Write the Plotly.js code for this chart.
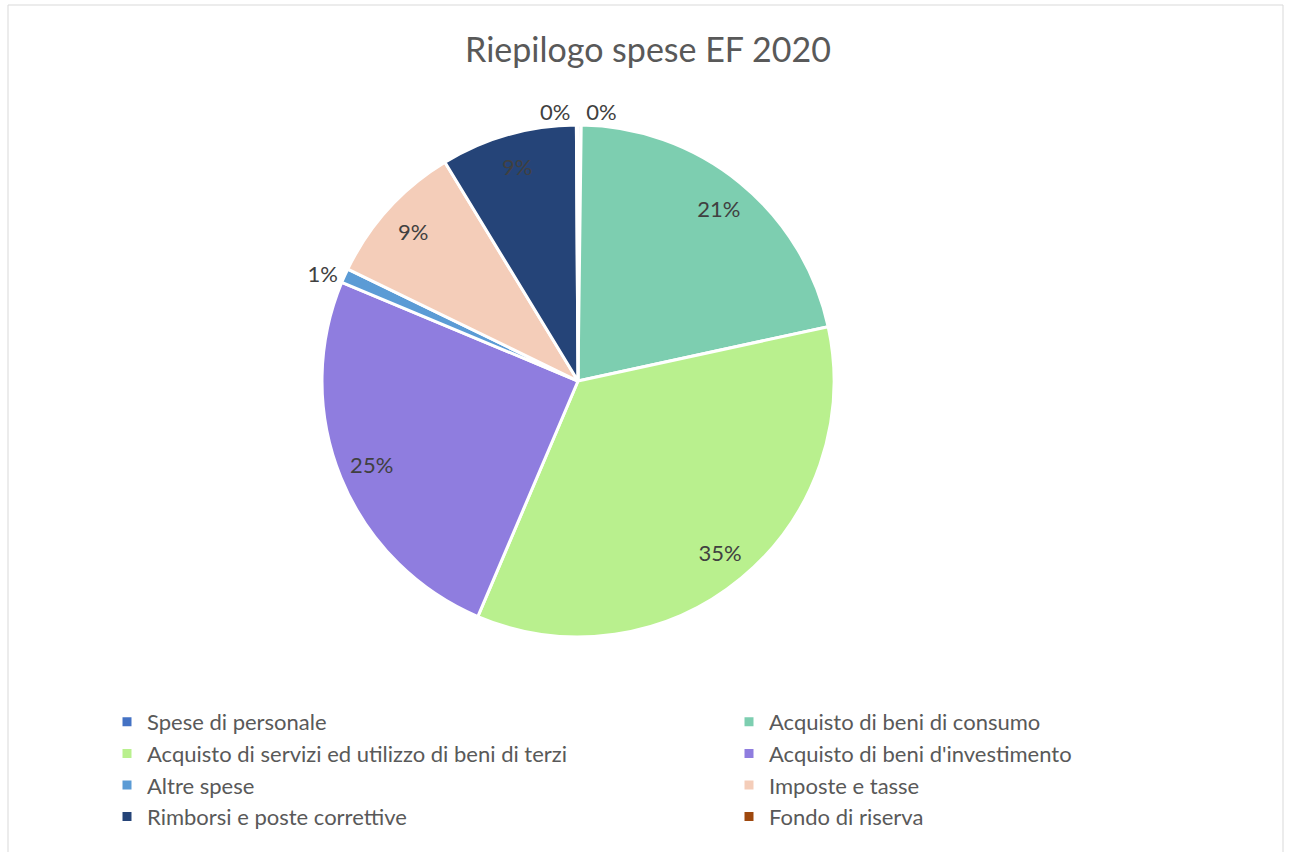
<!DOCTYPE html>
<html>
<head>
<meta charset="utf-8">
<script src="https://cdn.plot.ly/plotly-3.0.1.min.js"></script>
<style>
  html, body { margin: 0; padding: 0; background: #ffffff; }
  #chart { width: 1292px; height: 852px; }
</style>
</head>
<body>
<div id="chart"></div>
<script>
// Data (percent shares)
const categories = [
  'Spese di personale',
  'Acquisto di beni di consumo',
  'Acquisto di servizi ed utilizzo di beni di terzi',
  "Acquisto di beni d'investimento",
  'Altre spese',
  'Imposte e tasse',
  'Rimborsi e poste correttive',
  'Fondo di riserva'
];
const shares = [0.2, 21.4, 34.8, 24.9, 0.9, 9.1, 8.6, 0.1];
const sliceColors = ['#4472C4', '#7DCEB0', '#B9F08E', '#8F7DDF', '#5B9BD5', '#F4CDB9', '#254478', '#9E480E'];
const labelPositions = ['outside', 'inside', 'inside', 'inside', 'outside', 'inside', 'inside', 'outside'];

const W = 1292, H = 852;
const MB = 160;               // reserved bottom margin (legend area)
const plotH = H - MB;
const cx = 578, cy = 381, R = 256;
const domain = {
  x: [(cx - R) / W, (cx + R) / W],
  y: [1 - (cy + R) / plotH, 1 - (cy - R) / plotH]
};

const mainPie = {
  type: 'pie',
  labels: categories,
  values: shares,
  sort: false,
  direction: 'clockwise',
  rotation: 0,
  domain: domain,
  marker: { colors: sliceColors, line: { color: '#ffffff', width: 3 } },
  textinfo: 'none',
  hoverinfo: 'label+percent',
  showlegend: true,
  automargin: false
};

// transparent ring carrying the percentage labels (places them near the rim)
const labelRing = {
  type: 'pie',
  labels: categories,
  values: shares,
  sort: false,
  direction: 'clockwise',
  rotation: 0,
  hole: 0.74,
  domain: domain,
  marker: { colors: categories.map(() => 'rgba(0,0,0,0)'), line: { width: 0 } },
  texttemplate: '%{percent:.0%}',
  textposition: labelPositions,
  insidetextorientation: 'horizontal',
  textfont: { family: 'Lato, sans-serif', size: 22, color: '#404040' },
  outsidetextfont: { family: 'Lato, sans-serif', size: 22, color: '#404040' },
  hoverinfo: 'skip',
  showlegend: false,
  automargin: false
};

const layout = {
  width: W,
  height: H,
  margin: { l: 0, r: 0, t: 0, b: MB },
  paper_bgcolor: '#ffffff',
  font: { family: 'Lato, sans-serif', color: '#595959' },
  title: {
    text: 'Riepilogo spese EF 2020',
    font: { family: 'Lato, sans-serif', size: 34, color: '#595959' },
    xref: 'container', yref: 'container',
    x: 648 / W, xanchor: 'center',
    y: 1 - 50 / H, yanchor: 'middle'
  },
  legend: {
    orientation: 'h',
    xref: 'container', yref: 'container',
    x: 107 / W, xanchor: 'left',
    y: 1 - 701 / H, yanchor: 'top',
    entrywidth: 577, entrywidthmode: 'pixels',
    font: { family: 'Lato, sans-serif', size: 22, color: '#595959' },
    traceorder: 'normal',
    bgcolor: 'rgba(0,0,0,0)'
  },
  shapes: [{
    type: 'rect', xref: 'paper', yref: 'paper',
    x0: 8 / W, x1: 1283 / W, y0: -0.5, y1: 1 - 5 / plotH,
    line: { color: '#D9D9D9', width: 1 }
  }],
  showlegend: true
};

Plotly.newPlot('chart', [mainPie, labelRing], layout, { displayModeBar: false, staticPlot: true });
</script>
</body>
</html>
